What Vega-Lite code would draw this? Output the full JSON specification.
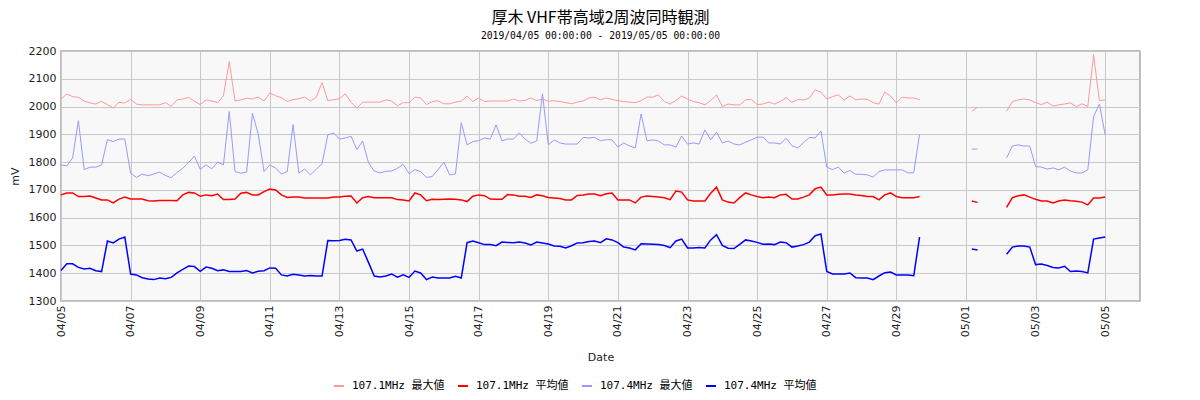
{
"$schema":"https://vega.github.io/schema/vega-lite/v6.json",
"width":1079,"height":250,
"autosize":{"type":"none"},
"padding":{"left":61,"top":51,"right":60,"bottom":99},
"background":"white",
"title":{"text":"厚木 VHF帯高域2周波同時観測","subtitle":"2019/04/05 00:00:00 - 2019/05/05 00:00:00","font":"Noto Sans CJK JP","fontSize":16,"fontWeight":"normal","color":"#000","subtitleFont":"DejaVu Sans Mono","subtitleFontSize":9.7,"subtitleColor":"#000","subtitlePadding":5,"offset":4,"anchor":"middle"},
"datasets":{
"a":[
{"t":"2019-04-05T00:00","v":2027},{"t":"2019-04-05T04:00","v":2045},{"t":"2019-04-05T08:00","v":2036},{"t":"2019-04-05T12:00","v":2033},{"t":"2019-04-05T16:00","v":2020},{"t":"2019-04-05T20:00","v":2013},
{"t":"2019-04-06T00:00","v":2009},{"t":"2019-04-06T04:00","v":2019},{"t":"2019-04-06T08:00","v":2007},{"t":"2019-04-06T12:00","v":1995},{"t":"2019-04-06T16:00","v":2015},{"t":"2019-04-06T20:00","v":2013},
{"t":"2019-04-07T00:00","v":2026},{"t":"2019-04-07T04:00","v":2009},{"t":"2019-04-07T08:00","v":2006},{"t":"2019-04-07T12:00","v":2006},{"t":"2019-04-07T16:00","v":2006},{"t":"2019-04-07T20:00","v":2006},
{"t":"2019-04-08T00:00","v":2014},{"t":"2019-04-08T04:00","v":2001},{"t":"2019-04-08T08:00","v":2024},{"t":"2019-04-08T12:00","v":2027},{"t":"2019-04-08T16:00","v":2033},{"t":"2019-04-08T20:00","v":2019},
{"t":"2019-04-09T00:00","v":2007},{"t":"2019-04-09T04:00","v":2024},{"t":"2019-04-09T08:00","v":2020},{"t":"2019-04-09T12:00","v":2014},{"t":"2019-04-09T16:00","v":2039},{"t":"2019-04-09T20:00","v":2162},
{"t":"2019-04-10T00:00","v":2020},{"t":"2019-04-10T04:00","v":2024},{"t":"2019-04-10T08:00","v":2030},{"t":"2019-04-10T12:00","v":2027},{"t":"2019-04-10T16:00","v":2034},{"t":"2019-04-10T20:00","v":2020},
{"t":"2019-04-11T00:00","v":2049},{"t":"2019-04-11T04:00","v":2039},{"t":"2019-04-11T08:00","v":2032},{"t":"2019-04-11T12:00","v":2018},{"t":"2019-04-11T16:00","v":2025},{"t":"2019-04-11T20:00","v":2028},
{"t":"2019-04-12T00:00","v":2034},{"t":"2019-04-12T04:00","v":2020},{"t":"2019-04-12T08:00","v":2033},{"t":"2019-04-12T12:00","v":2086},{"t":"2019-04-12T16:00","v":2021},{"t":"2019-04-12T20:00","v":2025},
{"t":"2019-04-13T00:00","v":2028},{"t":"2019-04-13T04:00","v":2046},{"t":"2019-04-13T08:00","v":2016},{"t":"2019-04-13T12:00","v":1994},{"t":"2019-04-13T16:00","v":2016},{"t":"2019-04-13T20:00","v":2016},
{"t":"2019-04-14T00:00","v":2016},{"t":"2019-04-14T04:00","v":2016},{"t":"2019-04-14T08:00","v":2024},{"t":"2019-04-14T12:00","v":2020},{"t":"2019-04-14T16:00","v":2003},{"t":"2019-04-14T20:00","v":2014},
{"t":"2019-04-15T00:00","v":2014},{"t":"2019-04-15T04:00","v":2034},{"t":"2019-04-15T08:00","v":2031},{"t":"2019-04-15T12:00","v":2007},{"t":"2019-04-15T16:00","v":2018},{"t":"2019-04-15T20:00","v":2021},
{"t":"2019-04-16T00:00","v":2010},{"t":"2019-04-16T04:00","v":2010},{"t":"2019-04-16T08:00","v":2016},{"t":"2019-04-16T12:00","v":2020},{"t":"2019-04-16T16:00","v":2038},{"t":"2019-04-16T20:00","v":2018},
{"t":"2019-04-17T00:00","v":2031},{"t":"2019-04-17T04:00","v":2018},{"t":"2019-04-17T08:00","v":2020},{"t":"2019-04-17T12:00","v":2020},{"t":"2019-04-17T16:00","v":2020},{"t":"2019-04-17T20:00","v":2020},
{"t":"2019-04-18T00:00","v":2027},{"t":"2019-04-18T04:00","v":2020},{"t":"2019-04-18T08:00","v":2022},{"t":"2019-04-18T12:00","v":2031},{"t":"2019-04-18T16:00","v":2021},{"t":"2019-04-18T20:00","v":2027},
{"t":"2019-04-19T00:00","v":2019},{"t":"2019-04-19T04:00","v":2021},{"t":"2019-04-19T08:00","v":2018},{"t":"2019-04-19T12:00","v":2014},{"t":"2019-04-19T16:00","v":2010},{"t":"2019-04-19T20:00","v":2016},
{"t":"2019-04-20T00:00","v":2020},{"t":"2019-04-20T04:00","v":2031},{"t":"2019-04-20T08:00","v":2034},{"t":"2019-04-20T12:00","v":2024},{"t":"2019-04-20T16:00","v":2031},{"t":"2019-04-20T20:00","v":2026},
{"t":"2019-04-21T00:00","v":2021},{"t":"2019-04-21T04:00","v":2018},{"t":"2019-04-21T08:00","v":2016},{"t":"2019-04-21T12:00","v":2014},{"t":"2019-04-21T16:00","v":2021},{"t":"2019-04-21T20:00","v":2034},
{"t":"2019-04-22T00:00","v":2034},{"t":"2019-04-22T04:00","v":2042},{"t":"2019-04-22T08:00","v":2018},{"t":"2019-04-22T12:00","v":2009},{"t":"2019-04-22T16:00","v":2022},{"t":"2019-04-22T20:00","v":2038},
{"t":"2019-04-23T00:00","v":2027},{"t":"2019-04-23T04:00","v":2018},{"t":"2019-04-23T08:00","v":2014},{"t":"2019-04-23T12:00","v":2006},{"t":"2019-04-23T16:00","v":2022},{"t":"2019-04-23T20:00","v":2042},
{"t":"2019-04-24T00:00","v":2000},{"t":"2019-04-24T04:00","v":2009},{"t":"2019-04-24T08:00","v":2006},{"t":"2019-04-24T12:00","v":2006},{"t":"2019-04-24T16:00","v":2024},{"t":"2019-04-24T20:00","v":2026},
{"t":"2019-04-25T00:00","v":2007},{"t":"2019-04-25T04:00","v":2009},{"t":"2019-04-25T08:00","v":2016},{"t":"2019-04-25T12:00","v":2009},{"t":"2019-04-25T16:00","v":2018},{"t":"2019-04-25T20:00","v":2032},
{"t":"2019-04-26T00:00","v":2015},{"t":"2019-04-26T04:00","v":2025},{"t":"2019-04-26T08:00","v":2024},{"t":"2019-04-26T12:00","v":2030},{"t":"2019-04-26T16:00","v":2060},{"t":"2019-04-26T20:00","v":2052},
{"t":"2019-04-27T00:00","v":2027},{"t":"2019-04-27T04:00","v":2036},{"t":"2019-04-27T08:00","v":2042},{"t":"2019-04-27T12:00","v":2024},{"t":"2019-04-27T16:00","v":2038},{"t":"2019-04-27T20:00","v":2024},
{"t":"2019-04-28T00:00","v":2027},{"t":"2019-04-28T04:00","v":2026},{"t":"2019-04-28T08:00","v":2014},{"t":"2019-04-28T12:00","v":2009},{"t":"2019-04-28T16:00","v":2052},{"t":"2019-04-28T20:00","v":2038},
{"t":"2019-04-29T00:00","v":2013},{"t":"2019-04-29T04:00","v":2034},{"t":"2019-04-29T08:00","v":2031},{"t":"2019-04-29T12:00","v":2031},{"t":"2019-04-29T16:00","v":2024},{"t":"2019-04-29T20:00","v":null},
{"t":"2019-04-30T00:00","v":null},{"t":"2019-04-30T04:00","v":null},{"t":"2019-04-30T08:00","v":null},{"t":"2019-04-30T12:00","v":null},{"t":"2019-04-30T16:00","v":null},{"t":"2019-04-30T20:00","v":null},
{"t":"2019-05-01T00:00","v":null},{"t":"2019-05-01T04:00","v":1983},{"t":"2019-05-01T08:00","v":1997},{"t":"2019-05-01T12:00","v":null},{"t":"2019-05-01T16:00","v":null},{"t":"2019-05-01T20:00","v":null},
{"t":"2019-05-02T00:00","v":null},{"t":"2019-05-02T04:00","v":1983},{"t":"2019-05-02T08:00","v":2018},{"t":"2019-05-02T12:00","v":2024},{"t":"2019-05-02T16:00","v":2027},{"t":"2019-05-02T20:00","v":2024},
{"t":"2019-05-03T00:00","v":2014},{"t":"2019-05-03T04:00","v":2007},{"t":"2019-05-03T08:00","v":2016},{"t":"2019-05-03T12:00","v":2002},{"t":"2019-05-03T16:00","v":2006},{"t":"2019-05-03T20:00","v":2009},
{"t":"2019-05-04T00:00","v":2013},{"t":"2019-05-04T04:00","v":2000},{"t":"2019-05-04T08:00","v":2010},{"t":"2019-05-04T12:00","v":2000},{"t":"2019-05-04T16:00","v":2187},{"t":"2019-05-04T20:00","v":2021},
{"t":"2019-05-05T00:00","v":2024}
],
"b":[
{"t":"2019-04-05T00:00","v":1682},{"t":"2019-04-05T04:00","v":1689},{"t":"2019-04-05T08:00","v":1689},{"t":"2019-04-05T12:00","v":1676},{"t":"2019-04-05T16:00","v":1676},{"t":"2019-04-05T20:00","v":1678},
{"t":"2019-04-06T00:00","v":1671},{"t":"2019-04-06T04:00","v":1664},{"t":"2019-04-06T08:00","v":1664},{"t":"2019-04-06T12:00","v":1653},{"t":"2019-04-06T16:00","v":1667},{"t":"2019-04-06T20:00","v":1674},
{"t":"2019-04-07T00:00","v":1667},{"t":"2019-04-07T04:00","v":1667},{"t":"2019-04-07T08:00","v":1667},{"t":"2019-04-07T12:00","v":1661},{"t":"2019-04-07T16:00","v":1660},{"t":"2019-04-07T20:00","v":1662},
{"t":"2019-04-08T00:00","v":1662},{"t":"2019-04-08T04:00","v":1662},{"t":"2019-04-08T08:00","v":1661},{"t":"2019-04-08T12:00","v":1682},{"t":"2019-04-08T16:00","v":1691},{"t":"2019-04-08T20:00","v":1689},
{"t":"2019-04-09T00:00","v":1677},{"t":"2019-04-09T04:00","v":1682},{"t":"2019-04-09T08:00","v":1679},{"t":"2019-04-09T12:00","v":1685},{"t":"2019-04-09T16:00","v":1665},{"t":"2019-04-09T20:00","v":1665},
{"t":"2019-04-10T00:00","v":1667},{"t":"2019-04-10T04:00","v":1688},{"t":"2019-04-10T08:00","v":1691},{"t":"2019-04-10T12:00","v":1682},{"t":"2019-04-10T16:00","v":1682},{"t":"2019-04-10T20:00","v":1694},
{"t":"2019-04-11T00:00","v":1703},{"t":"2019-04-11T04:00","v":1700},{"t":"2019-04-11T08:00","v":1682},{"t":"2019-04-11T12:00","v":1673},{"t":"2019-04-11T16:00","v":1674},{"t":"2019-04-11T20:00","v":1674},
{"t":"2019-04-12T00:00","v":1671},{"t":"2019-04-12T04:00","v":1671},{"t":"2019-04-12T08:00","v":1671},{"t":"2019-04-12T12:00","v":1671},{"t":"2019-04-12T16:00","v":1671},{"t":"2019-04-12T20:00","v":1674},
{"t":"2019-04-13T00:00","v":1674},{"t":"2019-04-13T04:00","v":1677},{"t":"2019-04-13T08:00","v":1678},{"t":"2019-04-13T12:00","v":1653},{"t":"2019-04-13T16:00","v":1672},{"t":"2019-04-13T20:00","v":1676},
{"t":"2019-04-14T00:00","v":1672},{"t":"2019-04-14T04:00","v":1672},{"t":"2019-04-14T08:00","v":1672},{"t":"2019-04-14T12:00","v":1672},{"t":"2019-04-14T16:00","v":1665},{"t":"2019-04-14T20:00","v":1664},
{"t":"2019-04-15T00:00","v":1660},{"t":"2019-04-15T04:00","v":1689},{"t":"2019-04-15T08:00","v":1682},{"t":"2019-04-15T12:00","v":1661},{"t":"2019-04-15T16:00","v":1666},{"t":"2019-04-15T20:00","v":1665},
{"t":"2019-04-16T00:00","v":1666},{"t":"2019-04-16T04:00","v":1667},{"t":"2019-04-16T08:00","v":1666},{"t":"2019-04-16T12:00","v":1664},{"t":"2019-04-16T16:00","v":1658},{"t":"2019-04-16T20:00","v":1677},
{"t":"2019-04-17T00:00","v":1682},{"t":"2019-04-17T04:00","v":1679},{"t":"2019-04-17T08:00","v":1667},{"t":"2019-04-17T12:00","v":1666},{"t":"2019-04-17T16:00","v":1666},{"t":"2019-04-17T20:00","v":1683},
{"t":"2019-04-18T00:00","v":1682},{"t":"2019-04-18T04:00","v":1677},{"t":"2019-04-18T08:00","v":1677},{"t":"2019-04-18T12:00","v":1673},{"t":"2019-04-18T16:00","v":1682},{"t":"2019-04-18T20:00","v":1679},
{"t":"2019-04-19T00:00","v":1673},{"t":"2019-04-19T04:00","v":1671},{"t":"2019-04-19T08:00","v":1669},{"t":"2019-04-19T12:00","v":1664},{"t":"2019-04-19T16:00","v":1664},{"t":"2019-04-19T20:00","v":1680},
{"t":"2019-04-20T00:00","v":1682},{"t":"2019-04-20T04:00","v":1685},{"t":"2019-04-20T08:00","v":1685},{"t":"2019-04-20T12:00","v":1679},{"t":"2019-04-20T16:00","v":1686},{"t":"2019-04-20T20:00","v":1689},
{"t":"2019-04-21T00:00","v":1664},{"t":"2019-04-21T04:00","v":1664},{"t":"2019-04-21T08:00","v":1664},{"t":"2019-04-21T12:00","v":1653},{"t":"2019-04-21T16:00","v":1674},{"t":"2019-04-21T20:00","v":1678},
{"t":"2019-04-22T00:00","v":1676},{"t":"2019-04-22T04:00","v":1674},{"t":"2019-04-22T08:00","v":1672},{"t":"2019-04-22T12:00","v":1665},{"t":"2019-04-22T16:00","v":1696},{"t":"2019-04-22T20:00","v":1692},
{"t":"2019-04-23T00:00","v":1664},{"t":"2019-04-23T04:00","v":1660},{"t":"2019-04-23T08:00","v":1660},{"t":"2019-04-23T12:00","v":1660},{"t":"2019-04-23T16:00","v":1688},{"t":"2019-04-23T20:00","v":1710},
{"t":"2019-04-24T00:00","v":1664},{"t":"2019-04-24T04:00","v":1656},{"t":"2019-04-24T08:00","v":1653},{"t":"2019-04-24T12:00","v":1672},{"t":"2019-04-24T16:00","v":1689},{"t":"2019-04-24T20:00","v":1682},
{"t":"2019-04-25T00:00","v":1676},{"t":"2019-04-25T04:00","v":1672},{"t":"2019-04-25T08:00","v":1674},{"t":"2019-04-25T12:00","v":1672},{"t":"2019-04-25T16:00","v":1682},{"t":"2019-04-25T20:00","v":1684},
{"t":"2019-04-26T00:00","v":1667},{"t":"2019-04-26T04:00","v":1667},{"t":"2019-04-26T08:00","v":1674},{"t":"2019-04-26T12:00","v":1682},{"t":"2019-04-26T16:00","v":1704},{"t":"2019-04-26T20:00","v":1710},
{"t":"2019-04-27T00:00","v":1682},{"t":"2019-04-27T04:00","v":1682},{"t":"2019-04-27T08:00","v":1684},{"t":"2019-04-27T12:00","v":1685},{"t":"2019-04-27T16:00","v":1685},{"t":"2019-04-27T20:00","v":1682},
{"t":"2019-04-28T00:00","v":1680},{"t":"2019-04-28T04:00","v":1676},{"t":"2019-04-28T08:00","v":1676},{"t":"2019-04-28T12:00","v":1664},{"t":"2019-04-28T16:00","v":1682},{"t":"2019-04-28T20:00","v":1689},
{"t":"2019-04-29T00:00","v":1676},{"t":"2019-04-29T04:00","v":1672},{"t":"2019-04-29T08:00","v":1672},{"t":"2019-04-29T12:00","v":1672},{"t":"2019-04-29T16:00","v":1676},{"t":"2019-04-29T20:00","v":null},
{"t":"2019-04-30T00:00","v":null},{"t":"2019-04-30T04:00","v":null},{"t":"2019-04-30T08:00","v":null},{"t":"2019-04-30T12:00","v":null},{"t":"2019-04-30T16:00","v":null},{"t":"2019-04-30T20:00","v":null},
{"t":"2019-05-01T00:00","v":null},{"t":"2019-05-01T04:00","v":1660},{"t":"2019-05-01T08:00","v":1655},{"t":"2019-05-01T12:00","v":null},{"t":"2019-05-01T16:00","v":null},{"t":"2019-05-01T20:00","v":null},
{"t":"2019-05-02T00:00","v":null},{"t":"2019-05-02T04:00","v":1637},{"t":"2019-05-02T08:00","v":1672},{"t":"2019-05-02T12:00","v":1679},{"t":"2019-05-02T16:00","v":1682},{"t":"2019-05-02T20:00","v":1674},
{"t":"2019-05-03T00:00","v":1666},{"t":"2019-05-03T04:00","v":1660},{"t":"2019-05-03T08:00","v":1660},{"t":"2019-05-03T12:00","v":1653},{"t":"2019-05-03T16:00","v":1660},{"t":"2019-05-03T20:00","v":1664},
{"t":"2019-05-04T00:00","v":1661},{"t":"2019-05-04T04:00","v":1659},{"t":"2019-05-04T08:00","v":1656},{"t":"2019-05-04T12:00","v":1646},{"t":"2019-05-04T16:00","v":1671},{"t":"2019-05-04T20:00","v":1671},
{"t":"2019-05-05T00:00","v":1674}
],
"c":[
{"t":"2019-04-05T00:00","v":1790},{"t":"2019-04-05T04:00","v":1786},{"t":"2019-04-05T08:00","v":1815},{"t":"2019-04-05T12:00","v":1949},{"t":"2019-04-05T16:00","v":1773},{"t":"2019-04-05T20:00","v":1782},
{"t":"2019-04-06T00:00","v":1782},{"t":"2019-04-06T04:00","v":1790},{"t":"2019-04-06T08:00","v":1881},{"t":"2019-04-06T12:00","v":1874},{"t":"2019-04-06T16:00","v":1883},{"t":"2019-04-06T20:00","v":1883},
{"t":"2019-04-07T00:00","v":1760},{"t":"2019-04-07T04:00","v":1745},{"t":"2019-04-07T08:00","v":1757},{"t":"2019-04-07T12:00","v":1751},{"t":"2019-04-07T16:00","v":1757},{"t":"2019-04-07T20:00","v":1764},
{"t":"2019-04-08T00:00","v":1752},{"t":"2019-04-08T04:00","v":1744},{"t":"2019-04-08T08:00","v":1763},{"t":"2019-04-08T12:00","v":1778},{"t":"2019-04-08T16:00","v":1798},{"t":"2019-04-08T20:00","v":1822},
{"t":"2019-04-09T00:00","v":1774},{"t":"2019-04-09T04:00","v":1790},{"t":"2019-04-09T08:00","v":1776},{"t":"2019-04-09T12:00","v":1800},{"t":"2019-04-09T16:00","v":1790},{"t":"2019-04-09T20:00","v":1982},
{"t":"2019-04-10T00:00","v":1766},{"t":"2019-04-10T04:00","v":1760},{"t":"2019-04-10T08:00","v":1764},{"t":"2019-04-10T12:00","v":1976},{"t":"2019-04-10T16:00","v":1901},{"t":"2019-04-10T20:00","v":1766},
{"t":"2019-04-11T00:00","v":1790},{"t":"2019-04-11T04:00","v":1779},{"t":"2019-04-11T08:00","v":1757},{"t":"2019-04-11T12:00","v":1766},{"t":"2019-04-11T16:00","v":1935},{"t":"2019-04-11T20:00","v":1761},
{"t":"2019-04-12T00:00","v":1775},{"t":"2019-04-12T04:00","v":1754},{"t":"2019-04-12T08:00","v":1774},{"t":"2019-04-12T12:00","v":1794},{"t":"2019-04-12T16:00","v":1898},{"t":"2019-04-12T20:00","v":1905},
{"t":"2019-04-13T00:00","v":1883},{"t":"2019-04-13T04:00","v":1887},{"t":"2019-04-13T08:00","v":1893},{"t":"2019-04-13T12:00","v":1845},{"t":"2019-04-13T16:00","v":1876},{"t":"2019-04-13T20:00","v":1798},
{"t":"2019-04-14T00:00","v":1768},{"t":"2019-04-14T04:00","v":1761},{"t":"2019-04-14T08:00","v":1767},{"t":"2019-04-14T12:00","v":1768},{"t":"2019-04-14T16:00","v":1778},{"t":"2019-04-14T20:00","v":1792},
{"t":"2019-04-15T00:00","v":1758},{"t":"2019-04-15T04:00","v":1773},{"t":"2019-04-15T08:00","v":1766},{"t":"2019-04-15T12:00","v":1745},{"t":"2019-04-15T16:00","v":1748},{"t":"2019-04-15T20:00","v":1773},
{"t":"2019-04-16T00:00","v":1800},{"t":"2019-04-16T04:00","v":1754},{"t":"2019-04-16T08:00","v":1757},{"t":"2019-04-16T12:00","v":1942},{"t":"2019-04-16T16:00","v":1862},{"t":"2019-04-16T20:00","v":1874},
{"t":"2019-04-17T00:00","v":1877},{"t":"2019-04-17T04:00","v":1887},{"t":"2019-04-17T08:00","v":1883},{"t":"2019-04-17T12:00","v":1934},{"t":"2019-04-17T16:00","v":1877},{"t":"2019-04-17T20:00","v":1883},
{"t":"2019-04-18T00:00","v":1883},{"t":"2019-04-18T04:00","v":1905},{"t":"2019-04-18T08:00","v":1883},{"t":"2019-04-18T12:00","v":1868},{"t":"2019-04-18T16:00","v":1876},{"t":"2019-04-18T20:00","v":2046},
{"t":"2019-04-19T00:00","v":1862},{"t":"2019-04-19T04:00","v":1880},{"t":"2019-04-19T08:00","v":1869},{"t":"2019-04-19T12:00","v":1865},{"t":"2019-04-19T16:00","v":1865},{"t":"2019-04-19T20:00","v":1865},
{"t":"2019-04-20T00:00","v":1889},{"t":"2019-04-20T04:00","v":1887},{"t":"2019-04-20T08:00","v":1889},{"t":"2019-04-20T12:00","v":1877},{"t":"2019-04-20T16:00","v":1881},{"t":"2019-04-20T20:00","v":1880},
{"t":"2019-04-21T00:00","v":1854},{"t":"2019-04-21T04:00","v":1869},{"t":"2019-04-21T08:00","v":1858},{"t":"2019-04-21T12:00","v":1851},{"t":"2019-04-21T16:00","v":1973},{"t":"2019-04-21T20:00","v":1877},
{"t":"2019-04-22T00:00","v":1880},{"t":"2019-04-22T04:00","v":1876},{"t":"2019-04-22T08:00","v":1862},{"t":"2019-04-22T12:00","v":1862},{"t":"2019-04-22T16:00","v":1854},{"t":"2019-04-22T20:00","v":1894},
{"t":"2019-04-23T00:00","v":1865},{"t":"2019-04-23T04:00","v":1869},{"t":"2019-04-23T08:00","v":1865},{"t":"2019-04-23T12:00","v":1916},{"t":"2019-04-23T16:00","v":1880},{"t":"2019-04-23T20:00","v":1908},
{"t":"2019-04-24T00:00","v":1869},{"t":"2019-04-24T04:00","v":1876},{"t":"2019-04-24T08:00","v":1865},{"t":"2019-04-24T12:00","v":1862},{"t":"2019-04-24T16:00","v":1872},{"t":"2019-04-24T20:00","v":1880},
{"t":"2019-04-25T00:00","v":1890},{"t":"2019-04-25T04:00","v":1890},{"t":"2019-04-25T08:00","v":1869},{"t":"2019-04-25T12:00","v":1869},{"t":"2019-04-25T16:00","v":1865},{"t":"2019-04-25T20:00","v":1886},
{"t":"2019-04-26T00:00","v":1859},{"t":"2019-04-26T04:00","v":1851},{"t":"2019-04-26T08:00","v":1870},{"t":"2019-04-26T12:00","v":1889},{"t":"2019-04-26T16:00","v":1887},{"t":"2019-04-26T20:00","v":1912},
{"t":"2019-04-27T00:00","v":1782},{"t":"2019-04-27T04:00","v":1773},{"t":"2019-04-27T08:00","v":1782},{"t":"2019-04-27T12:00","v":1760},{"t":"2019-04-27T16:00","v":1770},{"t":"2019-04-27T20:00","v":1756},
{"t":"2019-04-28T00:00","v":1756},{"t":"2019-04-28T04:00","v":1754},{"t":"2019-04-28T08:00","v":1746},{"t":"2019-04-28T12:00","v":1766},{"t":"2019-04-28T16:00","v":1772},{"t":"2019-04-28T20:00","v":1772},
{"t":"2019-04-29T00:00","v":1772},{"t":"2019-04-29T04:00","v":1772},{"t":"2019-04-29T08:00","v":1761},{"t":"2019-04-29T12:00","v":1762},{"t":"2019-04-29T16:00","v":1900},{"t":"2019-04-29T20:00","v":null},
{"t":"2019-04-30T00:00","v":null},{"t":"2019-04-30T04:00","v":null},{"t":"2019-04-30T08:00","v":null},{"t":"2019-04-30T12:00","v":null},{"t":"2019-04-30T16:00","v":null},{"t":"2019-04-30T20:00","v":null},
{"t":"2019-05-01T00:00","v":null},{"t":"2019-05-01T04:00","v":1847},{"t":"2019-05-01T08:00","v":1847},{"t":"2019-05-01T12:00","v":null},{"t":"2019-05-01T16:00","v":null},{"t":"2019-05-01T20:00","v":null},
{"t":"2019-05-02T00:00","v":null},{"t":"2019-05-02T04:00","v":1815},{"t":"2019-05-02T08:00","v":1858},{"t":"2019-05-02T12:00","v":1862},{"t":"2019-05-02T16:00","v":1858},{"t":"2019-05-02T20:00","v":1858},
{"t":"2019-05-03T00:00","v":1784},{"t":"2019-05-03T04:00","v":1782},{"t":"2019-05-03T08:00","v":1775},{"t":"2019-05-03T12:00","v":1779},{"t":"2019-05-03T16:00","v":1772},{"t":"2019-05-03T20:00","v":1782},
{"t":"2019-05-04T00:00","v":1768},{"t":"2019-05-04T04:00","v":1761},{"t":"2019-05-04T08:00","v":1761},{"t":"2019-05-04T12:00","v":1772},{"t":"2019-05-04T16:00","v":1964},{"t":"2019-05-04T20:00","v":2009},
{"t":"2019-05-05T00:00","v":1898}
],
"d":[
{"t":"2019-04-05T00:00","v":1410},{"t":"2019-04-05T04:00","v":1434},{"t":"2019-04-05T08:00","v":1434},{"t":"2019-04-05T12:00","v":1421},{"t":"2019-04-05T16:00","v":1415},{"t":"2019-04-05T20:00","v":1418},
{"t":"2019-04-06T00:00","v":1409},{"t":"2019-04-06T04:00","v":1406},{"t":"2019-04-06T08:00","v":1516},{"t":"2019-04-06T12:00","v":1509},{"t":"2019-04-06T16:00","v":1523},{"t":"2019-04-06T20:00","v":1530},
{"t":"2019-04-07T00:00","v":1397},{"t":"2019-04-07T04:00","v":1394},{"t":"2019-04-07T08:00","v":1384},{"t":"2019-04-07T12:00","v":1379},{"t":"2019-04-07T16:00","v":1377},{"t":"2019-04-07T20:00","v":1383},
{"t":"2019-04-08T00:00","v":1380},{"t":"2019-04-08T04:00","v":1385},{"t":"2019-04-08T08:00","v":1401},{"t":"2019-04-08T12:00","v":1414},{"t":"2019-04-08T16:00","v":1426},{"t":"2019-04-08T20:00","v":1424},
{"t":"2019-04-09T00:00","v":1407},{"t":"2019-04-09T04:00","v":1422},{"t":"2019-04-09T08:00","v":1418},{"t":"2019-04-09T12:00","v":1409},{"t":"2019-04-09T16:00","v":1412},{"t":"2019-04-09T20:00","v":1406},
{"t":"2019-04-10T00:00","v":1406},{"t":"2019-04-10T04:00","v":1406},{"t":"2019-04-10T08:00","v":1410},{"t":"2019-04-10T12:00","v":1401},{"t":"2019-04-10T16:00","v":1407},{"t":"2019-04-10T20:00","v":1409},
{"t":"2019-04-11T00:00","v":1419},{"t":"2019-04-11T04:00","v":1418},{"t":"2019-04-11T08:00","v":1394},{"t":"2019-04-11T12:00","v":1390},{"t":"2019-04-11T16:00","v":1396},{"t":"2019-04-11T20:00","v":1394},
{"t":"2019-04-12T00:00","v":1390},{"t":"2019-04-12T04:00","v":1392},{"t":"2019-04-12T08:00","v":1390},{"t":"2019-04-12T12:00","v":1390},{"t":"2019-04-12T16:00","v":1518},{"t":"2019-04-12T20:00","v":1517},
{"t":"2019-04-13T00:00","v":1518},{"t":"2019-04-13T04:00","v":1522},{"t":"2019-04-13T08:00","v":1520},{"t":"2019-04-13T12:00","v":1480},{"t":"2019-04-13T16:00","v":1487},{"t":"2019-04-13T20:00","v":1439},
{"t":"2019-04-14T00:00","v":1390},{"t":"2019-04-14T04:00","v":1386},{"t":"2019-04-14T08:00","v":1390},{"t":"2019-04-14T12:00","v":1397},{"t":"2019-04-14T16:00","v":1386},{"t":"2019-04-14T20:00","v":1394},
{"t":"2019-04-15T00:00","v":1385},{"t":"2019-04-15T04:00","v":1408},{"t":"2019-04-15T08:00","v":1401},{"t":"2019-04-15T12:00","v":1377},{"t":"2019-04-15T16:00","v":1386},{"t":"2019-04-15T20:00","v":1383},
{"t":"2019-04-16T00:00","v":1383},{"t":"2019-04-16T04:00","v":1383},{"t":"2019-04-16T08:00","v":1389},{"t":"2019-04-16T12:00","v":1383},{"t":"2019-04-16T16:00","v":1510},{"t":"2019-04-16T20:00","v":1516},
{"t":"2019-04-17T00:00","v":1510},{"t":"2019-04-17T04:00","v":1503},{"t":"2019-04-17T08:00","v":1503},{"t":"2019-04-17T12:00","v":1499},{"t":"2019-04-17T16:00","v":1512},{"t":"2019-04-17T20:00","v":1511},
{"t":"2019-04-18T00:00","v":1510},{"t":"2019-04-18T04:00","v":1512},{"t":"2019-04-18T08:00","v":1509},{"t":"2019-04-18T12:00","v":1502},{"t":"2019-04-18T16:00","v":1512},{"t":"2019-04-18T20:00","v":1509},
{"t":"2019-04-19T00:00","v":1505},{"t":"2019-04-19T04:00","v":1498},{"t":"2019-04-19T08:00","v":1497},{"t":"2019-04-19T12:00","v":1491},{"t":"2019-04-19T16:00","v":1499},{"t":"2019-04-19T20:00","v":1509},
{"t":"2019-04-20T00:00","v":1510},{"t":"2019-04-20T04:00","v":1514},{"t":"2019-04-20T08:00","v":1516},{"t":"2019-04-20T12:00","v":1510},{"t":"2019-04-20T16:00","v":1524},{"t":"2019-04-20T20:00","v":1520},
{"t":"2019-04-21T00:00","v":1510},{"t":"2019-04-21T04:00","v":1494},{"t":"2019-04-21T08:00","v":1491},{"t":"2019-04-21T12:00","v":1484},{"t":"2019-04-21T16:00","v":1506},{"t":"2019-04-21T20:00","v":1505},
{"t":"2019-04-22T00:00","v":1504},{"t":"2019-04-22T04:00","v":1503},{"t":"2019-04-22T08:00","v":1500},{"t":"2019-04-22T12:00","v":1492},{"t":"2019-04-22T16:00","v":1516},{"t":"2019-04-22T20:00","v":1523},
{"t":"2019-04-23T00:00","v":1491},{"t":"2019-04-23T04:00","v":1491},{"t":"2019-04-23T08:00","v":1493},{"t":"2019-04-23T12:00","v":1491},{"t":"2019-04-23T16:00","v":1520},{"t":"2019-04-23T20:00","v":1539},
{"t":"2019-04-24T00:00","v":1500},{"t":"2019-04-24T04:00","v":1490},{"t":"2019-04-24T08:00","v":1489},{"t":"2019-04-24T12:00","v":1504},{"t":"2019-04-24T16:00","v":1520},{"t":"2019-04-24T20:00","v":1516},
{"t":"2019-04-25T00:00","v":1511},{"t":"2019-04-25T04:00","v":1504},{"t":"2019-04-25T08:00","v":1505},{"t":"2019-04-25T12:00","v":1503},{"t":"2019-04-25T16:00","v":1512},{"t":"2019-04-25T20:00","v":1510},
{"t":"2019-04-26T00:00","v":1494},{"t":"2019-04-26T04:00","v":1498},{"t":"2019-04-26T08:00","v":1503},{"t":"2019-04-26T12:00","v":1512},{"t":"2019-04-26T16:00","v":1535},{"t":"2019-04-26T20:00","v":1541},
{"t":"2019-04-27T00:00","v":1406},{"t":"2019-04-27T04:00","v":1397},{"t":"2019-04-27T08:00","v":1397},{"t":"2019-04-27T12:00","v":1397},{"t":"2019-04-27T16:00","v":1401},{"t":"2019-04-27T20:00","v":1384},
{"t":"2019-04-28T00:00","v":1383},{"t":"2019-04-28T04:00","v":1383},{"t":"2019-04-28T08:00","v":1377},{"t":"2019-04-28T12:00","v":1390},{"t":"2019-04-28T16:00","v":1402},{"t":"2019-04-28T20:00","v":1404},
{"t":"2019-04-29T00:00","v":1394},{"t":"2019-04-29T04:00","v":1394},{"t":"2019-04-29T08:00","v":1394},{"t":"2019-04-29T12:00","v":1391},{"t":"2019-04-29T16:00","v":1530},{"t":"2019-04-29T20:00","v":null},
{"t":"2019-04-30T00:00","v":null},{"t":"2019-04-30T04:00","v":null},{"t":"2019-04-30T08:00","v":null},{"t":"2019-04-30T12:00","v":null},{"t":"2019-04-30T16:00","v":null},{"t":"2019-04-30T20:00","v":null},
{"t":"2019-05-01T00:00","v":null},{"t":"2019-05-01T04:00","v":1487},{"t":"2019-05-01T08:00","v":1484},{"t":"2019-05-01T12:00","v":null},{"t":"2019-05-01T16:00","v":null},{"t":"2019-05-01T20:00","v":null},
{"t":"2019-05-02T00:00","v":null},{"t":"2019-05-02T04:00","v":1468},{"t":"2019-05-02T08:00","v":1494},{"t":"2019-05-02T12:00","v":1498},{"t":"2019-05-02T16:00","v":1498},{"t":"2019-05-02T20:00","v":1494},
{"t":"2019-05-03T00:00","v":1431},{"t":"2019-05-03T04:00","v":1433},{"t":"2019-05-03T08:00","v":1428},{"t":"2019-05-03T12:00","v":1421},{"t":"2019-05-03T16:00","v":1419},{"t":"2019-05-03T20:00","v":1425},
{"t":"2019-05-04T00:00","v":1406},{"t":"2019-05-04T04:00","v":1408},{"t":"2019-05-04T08:00","v":1406},{"t":"2019-05-04T12:00","v":1401},{"t":"2019-05-04T16:00","v":1523},{"t":"2019-05-04T20:00","v":1527},
{"t":"2019-05-05T00:00","v":1530}
]
},
"encoding":{
"x":{"field":"t","type":"temporal","title":"Date",
"scale":{"domain":[{"year":2019,"month":4,"date":5},{"year":2019,"month":5,"date":6}],"nice":false},
"axis":{"format":"%m/%d","tickCount":{"interval":"day","step":2},"labelAngle":-90,"labelPadding":4,"titlePadding":15}},
"y":{"field":"v","type":"quantitative","title":"mV",
"scale":{"domain":[1300,2200],"nice":false,"zero":false},
"axis":{"values":[1300,1400,1500,1600,1700,1800,1900,2000,2100,2200],"format":"d","labelPadding":5,"titlePadding":8}}
},
"layer":[
{"data":{"name":"a"},"mark":{"type":"line","strokeWidth":1,"invalid":"break-paths-filter-domains"},
"encoding":{"color":{"datum":"107.1MHz 最大値","type":"nominal",
"scale":{"domain":["107.1MHz 最大値","107.1MHz 平均値","107.4MHz 最大値","107.4MHz 平均値"],"range":["#ff9999","#ff0000","#9999ff","#0000ff"]},
"legend":{"orient":"none","legendX":272,"legendY":329,"direction":"horizontal","columns":4,"title":null,"symbolType":"stroke","symbolSize":100,"symbolStrokeWidth":2,"labelFont":"DejaVu Sans Mono, Noto Sans CJK JP","labelFontSize":11,"labelColor":"#000","labelOffset":7,"columnPadding":9,"padding":0}}}},
{"data":{"name":"b"},"mark":{"type":"line","strokeWidth":1.5,"invalid":"break-paths-filter-domains"},
"encoding":{"color":{"datum":"107.1MHz 平均値","type":"nominal"}}},
{"data":{"name":"c"},"mark":{"type":"line","strokeWidth":1,"invalid":"break-paths-filter-domains"},
"encoding":{"color":{"datum":"107.4MHz 最大値","type":"nominal"}}},
{"data":{"name":"d"},"mark":{"type":"line","strokeWidth":1.5,"invalid":"break-paths-filter-domains"},
"encoding":{"color":{"datum":"107.4MHz 平均値","type":"nominal"}}}
],
"config":{
"view":{"fill":"#f8f8f8","stroke":"#a8a8a8","strokeWidth":1.5},
"axis":{"domain":false,"ticks":false,"grid":true,"gridColor":"#c8c8c8","gridWidth":1,"labelFont":"DejaVu Sans","labelFontSize":11,"labelColor":"#222","titleFont":"DejaVu Sans","titleFontSize":11,"titleFontWeight":"normal","titleColor":"#222"},
"legend":{"labelLimit":0}
}
}
